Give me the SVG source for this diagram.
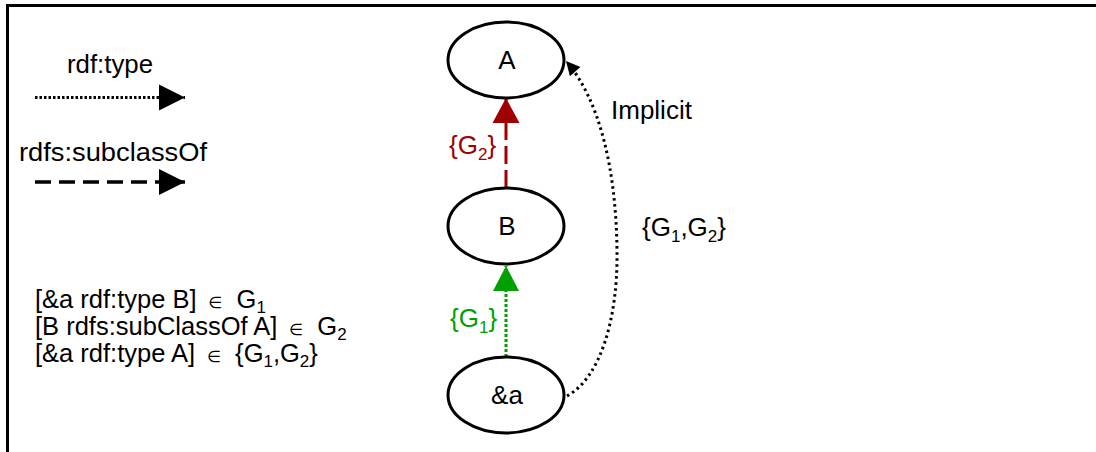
<svg xmlns="http://www.w3.org/2000/svg" width="1096" height="452" viewBox="0 0 1096 452">
<defs>
<style>
text{font-family:"Liberation Sans",Arial,Helvetica,sans-serif;fill:#000;font-size:26px}
.node ellipse{fill:#fff;stroke:#000;stroke-width:3}
.lbl{text-anchor:middle}
.red{fill:#A00000}
.green{fill:#00A000}
.frame{fill:none;stroke:#000;stroke-width:3}
.dot{fill:none;stroke:#000;stroke-width:3;stroke-dasharray:2.5 2}
.dash{fill:none;stroke:#000;stroke-width:3.5;stroke-dasharray:16 8}
.st{font-size:25.5px}
.el{font-size:16px;font-family:"DejaVu Sans",sans-serif}
.sub{font-size:17px}
</style>
<marker id="legArrow" markerUnits="userSpaceOnUse" markerWidth="30" markerHeight="30" refX="26" refY="13" orient="auto" overflow="visible">
<path d="M0,0 L26,13 L0,26 z" fill="#000"/>
</marker>
<marker id="redArrow" markerUnits="userSpaceOnUse" markerWidth="30" markerHeight="30" refX="25" refY="13.5" orient="auto" overflow="visible">
<path d="M0,0 L25,13.5 L0,27 z" fill="#A00000"/>
</marker>
<marker id="greenArrow" markerUnits="userSpaceOnUse" markerWidth="30" markerHeight="30" refX="25" refY="13" orient="auto" overflow="visible">
<path d="M0,0 L25,13 L0,26 z" fill="#00A000"/>
</marker>
<marker id="smallArrow" markerUnits="userSpaceOnUse" markerWidth="20" markerHeight="20" refX="14" refY="7" orient="auto" overflow="visible">
<path d="M0,0 L14,7 L0,14 z" fill="#000"/>
</marker>
</defs>
<rect width="1096" height="452" fill="#fff"/>
<path class="frame" d="M7.5,452 V5.5 H1096"/>

<g id="legend">
<text x="67" y="73" textLength="86" lengthAdjust="spacingAndGlyphs">rdf:type</text>
<line class="dot" x1="35" y1="97.5" x2="185" y2="97.5" marker-end="url(#legArrow)"/>
<text x="19" y="161" textLength="188" lengthAdjust="spacingAndGlyphs">rdfs:subclassOf</text>
<line class="dash" x1="35" y1="182" x2="185" y2="182" marker-end="url(#legArrow)"/>
</g>

<g id="statements">
<text class="st" x="35" y="308">[&amp;a rdf:type B]<tspan class="el" dx="12">∈</tspan><tspan dx="14">G</tspan><tspan class="sub" dy="5">1</tspan></text>
<text class="st" x="35" y="335">[B rdfs:subClassOf A]<tspan class="el" dx="12">∈</tspan><tspan dx="14">G</tspan><tspan class="sub" dy="5">2</tspan></text>
<text class="st" x="35" y="362">[&amp;a rdf:type A]<tspan class="el" dx="12">∈</tspan><tspan dx="14">{G</tspan><tspan class="sub" dy="5">1</tspan><tspan dy="-5">,G</tspan><tspan class="sub" dy="5">2</tspan><tspan dy="-5">}</tspan></text>
</g>

<g id="connectors">
<line x1="506" y1="188" x2="506" y2="98" stroke="#A00000" stroke-width="3" stroke-dasharray="18 6" marker-end="url(#redArrow)"/>
<line x1="506" y1="357" x2="506" y2="266" stroke="#00A000" stroke-width="3" stroke-dasharray="3 2" marker-end="url(#greenArrow)"/>
<path d="M567,396 C600,378 618,320 617,250 C616,170 600,100 566,61" fill="none" stroke="#000" stroke-width="3" stroke-dasharray="2.5 3.5" marker-end="url(#smallArrow)"/>
<text class="red" x="449" y="154">{G<tspan class="sub" dy="6">2</tspan><tspan dy="-6">}</tspan></text>
<text class="green" x="450" y="327">{G<tspan class="sub" dy="6">1</tspan><tspan dy="-6">}</tspan></text>
<text x="611" y="119">Implicit</text>
<text x="642" y="236">{G<tspan class="sub" dy="6">1</tspan><tspan dy="-6">,G</tspan><tspan class="sub" dy="6">2</tspan><tspan dy="-6">}</tspan></text>
</g>

<g id="node-A" class="node">
<ellipse cx="506" cy="60" rx="58" ry="38"/>
<text class="lbl" x="507" y="69">A</text>
</g>
<g id="node-B" class="node">
<ellipse cx="506" cy="226" rx="58" ry="38"/>
<text class="lbl" x="507" y="235">B</text>
</g>
<g id="node-a" class="node">
<ellipse cx="506" cy="395" rx="58" ry="38"/>
<text class="lbl" x="507" y="404">&amp;a</text>
</g>
</svg>
